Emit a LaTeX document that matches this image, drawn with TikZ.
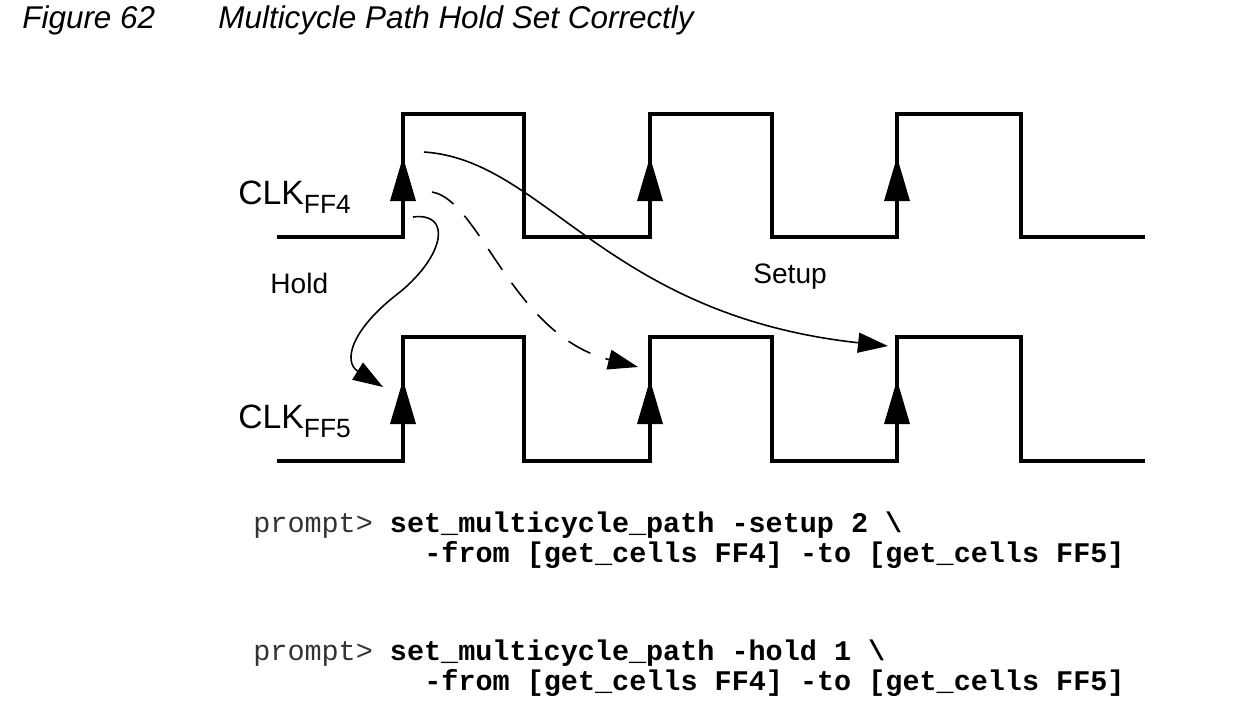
\documentclass[tikz,border=0pt]{standalone}
\usepackage{fontspec}
\setmainfont{Liberation Sans}
\setmonofont{Liberation Mono}
\usetikzlibrary{arrows.meta}

\tikzset{
  wave/.style={line width=4.6pt*0.02/0.0352778, line join=miter},
  flow/.style={line width=0.9pt, -{Triangle[length=0.6cm,width=0.4cm]}},
  lbl/.style={font=\fontsize{16}{19}\selectfont, inner sep=0pt, anchor=base west},
  code/.style={font=\ttfamily\fontsize{16.2}{19}\selectfont, inner sep=0pt, anchor=base west}
}
\newcommand{\clklabel}[1]{CLK{\fontsize{15}{15}\selectfont\raisebox{-5.5pt}{#1}}}
\newcommand{\prm}{{\mdseries\color{black!80}prompt>}}

\begin{document}
\begin{tikzpicture}[x=0.02cm,y=-0.02cm]
  \useasboundingbox (0,0) rectangle (1251,718);

  % title
  \node[lbl, font=\itshape\fontsize{17.9}{21}\selectfont] (fig) at (22,28) {Figure 62};
  \node[lbl, font=\itshape\fontsize{17.9}{21}\selectfont] (title) at (218,28) {Multicycle Path Hold Set Correctly};

  % clock waveforms
  \foreach \lo/\hi in {237/114, 461/337} {
    \draw[wave] (277,\lo) -- (403,\lo) -- (403,\hi) -- (524,\hi) -- (524,\lo)
      -- (650,\lo) -- (650,\hi) -- (772,\hi) -- (772,\lo) -- (897,\lo)
      -- (897,\hi) -- (1021,\hi) -- (1021,\lo) -- (1145,\lo);
    \foreach \x in {403,650,897}
      \fill (\x,\hi+43) -- (\x+13,\hi+87) -- (\x-13,\hi+87) -- cycle;
  }

  \node[lbl, font=\fontsize{19.2}{22}\selectfont] (clk4) at (238,204) {\clklabel{FF4}};
  \node[lbl, font=\fontsize{19.2}{22}\selectfont] (clk5) at (238,428) {\clklabel{FF5}};
  \node[lbl] (hold) at (270,293) {Hold};
  \node[lbl] (setup) at (753,283) {Setup};

  % timing paths
  \coordinate (s0) at (424,152);
  \coordinate (s1) at (888,346);
  \coordinate (d0) at (432,192);
  \coordinate (d1) at (638,367);
  \coordinate (h0) at (413,217);
  \coordinate (hm) at (400,292);
  \coordinate (h1) at (383,387);

  \draw[flow] (s0) .. controls (545,160) and (605,315) .. (s1);
  \draw[flow, dash pattern=on 0.5cm off 0.32cm] (d0) .. controls (480,200) and (512,335) .. (d1);
  \draw[flow] (h0) .. controls (452,212) and (445,255) .. (hm)
    .. controls (350,330) and (343,362) .. (h1);

  % commands
  \node[code] (c1) at (253,532) {\prm{} \textbf{set\_multicycle\_path -setup 2 \textbackslash}};
  \node[code] (c2) at (424,562) {\textbf{-from [get\_cells FF4] -to [get\_cells FF5]}};
  \node[code] (c3) at (253,660) {\prm{} \textbf{set\_multicycle\_path -hold 1 \textbackslash}};
  \node[code] (c4) at (424,690) {\textbf{-from [get\_cells FF4] -to [get\_cells FF5]}};
\end{tikzpicture}
\end{document}
